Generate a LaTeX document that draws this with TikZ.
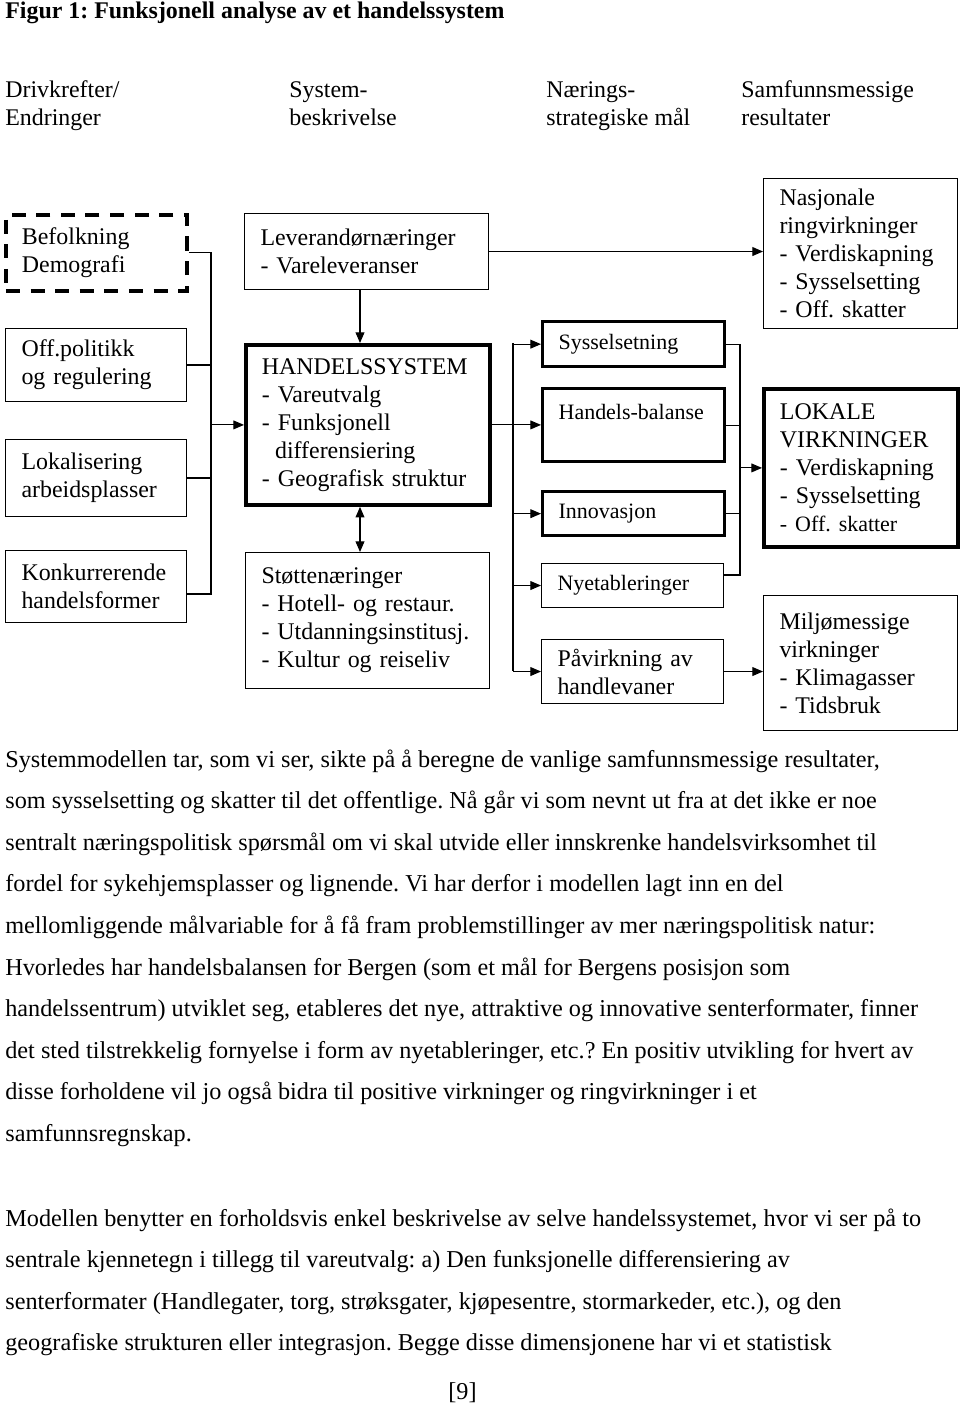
\documentclass[tikz,border=0pt]{standalone}
\usepackage{fontspec}
\setmainfont{Liberation Serif}
\usetikzlibrary{arrows.meta}
\frenchspacing
\newcommand\boxfont{\fontsize{13.6}{15.9}\selectfont}
\newcommand\smallboxfont{\fontsize{12.5}{15}\selectfont}
\newcommand\runfont{\fontsize{13.8}{16}\selectfont}

\begin{document}
\begin{tikzpicture}
        [x=0.02cm, y=-0.02cm,
        box/.style={draw, anchor=north west, align=left, inner xsep=0.32cm, inner ysep=0pt, font=\boxfont, semithick},
        drv/.style={box, text width=2.98cm},
        sys/.style={box, text width=4.24cm},
        mal/.style={box, text width=3.0cm},
        res/.style={box, text width=3.24cm},
        heavy/.style={line width=2.2pt},
        hdr/.style={anchor=base west, inner sep=0pt, font=\boxfont},
        txt/.style={anchor=base west, inner sep=0pt, font=\runfont},
        arr/.style={->, >={Triangle[length=6pt,width=5pt]}, semithick}]
        \useasboundingbox (0,0) rectangle (960,1405);
        % title and column heads
        \node[hdr] (title) at (5,19) {\bfseries Figur 1: Funksjonell analyse av et handelssystem};
        \node[hdr] (hdrv) at (5,98) {Drivkrefter/};
        \node[hdr] (hdrv2) at (5,126) {Endringer};
        \node[hdr] (hsys) at (289,98) {System-};
        \node[hdr] (hsys2) at (289,126) {beskrivelse};
        \node[hdr] (hmal) at (546,98) {Nærings-};
        \node[hdr] (hmal2) at (546,126) {strategiske mål};
        \node[hdr] (hres) at (741,98) {Samfunnsmessige};
        \node[hdr] (hres2) at (741,126) {resultater};
        % drivers
        \node (bef) at (4,213) [drv, minimum height=1.52cm, line width=2.2pt, dash pattern=on 8pt off 6pt] {Befolkning\\Demografi};
        \node (off) at (5,328) [drv, minimum height=1.46cm] {Off.politikk\\og regulering};
        \node (lokal) at (5,439) [drv, minimum height=1.54cm] {Lokalisering\\arbeidsplasser};
        \node (konk) at (5,550) [drv, minimum height=1.44cm] {Konkurrerende\\handelsformer};
        % system
        \node (lev) at (244,213) [sys, minimum height=1.52cm] {Leverandørnæringer\\- Vareleveranser};
        \node (hs) at (244,343) [sys, minimum height=3.2cm, heavy] {HANDELSSYSTEM\\- Vareutvalg\\- Funksjonell\\\hspace*{0.55em}differensiering\\- Geografisk struktur};
        \node (stotte) at (245,552) [sys, minimum height=2.72cm] {Støttenæringer\\- Hotell- og restaur.\\- Utdanningsinstitusj.\\- Kultur og reiseliv};
        % goals
        \node (syss) at (541,320) [mal, minimum height=0.9cm, line width=1.9pt, font=\smallboxfont] {Sysselsetning};
        \node (handels) at (541,387) [mal, minimum height=1.46cm, line width=1.9pt, font=\smallboxfont] {Handels-balanse\\\mbox{}};
        \node (innov) at (541,490) [mal, minimum height=0.88cm, line width=1.9pt, font=\smallboxfont] {Innovasjon};
        \node (nyet) at (541,563) [mal, minimum height=0.88cm, font=\smallboxfont] {Nyetableringer};
        \node (pavirk) at (541,639) [mal, minimum height=1.28cm] {Påvirkning av\\handlevaner};
        % results
        \node (nasj) at (763,178) [res, minimum height=3.0cm] {Nasjonale\\ringvirkninger\\- Verdiskapning\\- Sysselsetting\\- Off. skatter};
        \node (lokv) at (762,387) [res, minimum height=3.16cm, heavy] {LOKALE\\VIRKNINGER\\- Verdiskapning\\- Sysselsetting\\{\smallboxfont - Off. skatter}};
        \node (milj) at (763,595) [res, minimum height=2.7cm] {Miljømessige\\virkninger\\- Klimagasser\\- Tidsbruk};
        % left bus
        \coordinate (lb) at (211,594);
        \draw[semithick] (bef.east) -| (lb) -- (lb -| konk.east);
        \draw[semithick] (off.east) -- (off.east -| lb);
        \draw[semithick] (lokal.east) -- (lokal.east -| lb);
        \draw[arr] (hs.west -| lb) -- (hs.west);
        \coordinate (vx) at (360,0);
        \draw[arr] (lev.south -| vx) -- (hs.north -| vx);
        \draw[arr, <->] (stotte.north -| vx) -- (hs.south -| vx);
        \draw[arr] (lev.east) -- (lev.east -| nasj.west);
        % middle bus
        \coordinate (mt) at (513,343);
        \coordinate (mb) at (513,671);
        \draw[semithick] (mt) -- (mb);
        \draw[arr] (hs.east) -- (hs.east -| handels.west);
        \draw[arr] (syss.west -| mt) -- (syss.west);
        \draw[arr] (innov.west -| mt) -- (innov.west);
        \draw[arr] (nyet.west -| mt) -- (nyet.west);
        \draw[arr] (pavirk.west -| mt) -- (pavirk.west);
        % right bus
        \coordinate (rb) at (740,575);
        \draw[semithick] (syss.east) -| (rb) -- (rb -| nyet.east);
        \draw[semithick] (handels.east) -- (handels.east -| rb);
        \draw[semithick] (innov.east) -- (innov.east -| rb);
        \draw[arr] (lokv.west -| rb) -- (lokv.west);
        \draw[arr] (pavirk.east) -- (pavirk.east -| milj.west);
        % running text
        \node[txt] (l1) at (5,767) {Systemmodellen tar, som vi ser, sikte på å beregne de vanlige samfunnsmessige resultater,};
        \node[txt] (l2) at (5,808.6) {som sysselsetting og skatter til det offentlige. Nå går vi som nevnt ut fra at det ikke er noe};
        \node[txt] (l3) at (5,850.2) {sentralt næringspolitisk spørsmål om vi skal utvide eller innskrenke handelsvirksomhet til};
        \node[txt] (l4) at (5,891.8) {fordel for sykehjemsplasser og lignende. Vi har derfor i modellen lagt inn en del};
        \node[txt] (l5) at (5,933.4) {mellomliggende målvariable for å få fram problemstillinger av mer næringspolitisk natur:};
        \node[txt] (l6) at (5,975) {Hvorledes har handelsbalansen for Bergen (som et mål for Bergens posisjon som};
        \node[txt] (l7) at (5,1016.6) {handelssentrum) utviklet seg, etableres det nye, attraktive og innovative senterformater, finner};
        \node[txt] (l8) at (5,1058.2) {det sted tilstrekkelig fornyelse i form av nyetableringer, etc.? En positiv utvikling for hvert av};
        \node[txt] (l9) at (5,1099.8) {disse forholdene vil jo også bidra til positive virkninger og ringvirkninger i et};
        \node[txt] (l10) at (5,1141.4) {samfunnsregnskap.};
        \node[txt] (m1) at (5,1226) {Modellen benytter en forholdsvis enkel beskrivelse av selve handelssystemet, hvor vi ser på to};
        \node[txt] (m2) at (5,1267.6) {sentrale kjennetegn i tillegg til vareutvalg: a) Den funksjonelle differensiering av};
        \node[txt] (m3) at (5,1309.2) {senterformater (Handlegater, torg, strøksgater, kjøpesentre, stormarkeder, etc.), og den};
        \node[txt] (m4) at (5,1350.8) {geografiske strukturen eller integrasjon. Begge disse dimensjonene har vi et statistisk};
        \node[txt] (pg) at (448,1399) {[9]};
\end{tikzpicture}
\end{document}
